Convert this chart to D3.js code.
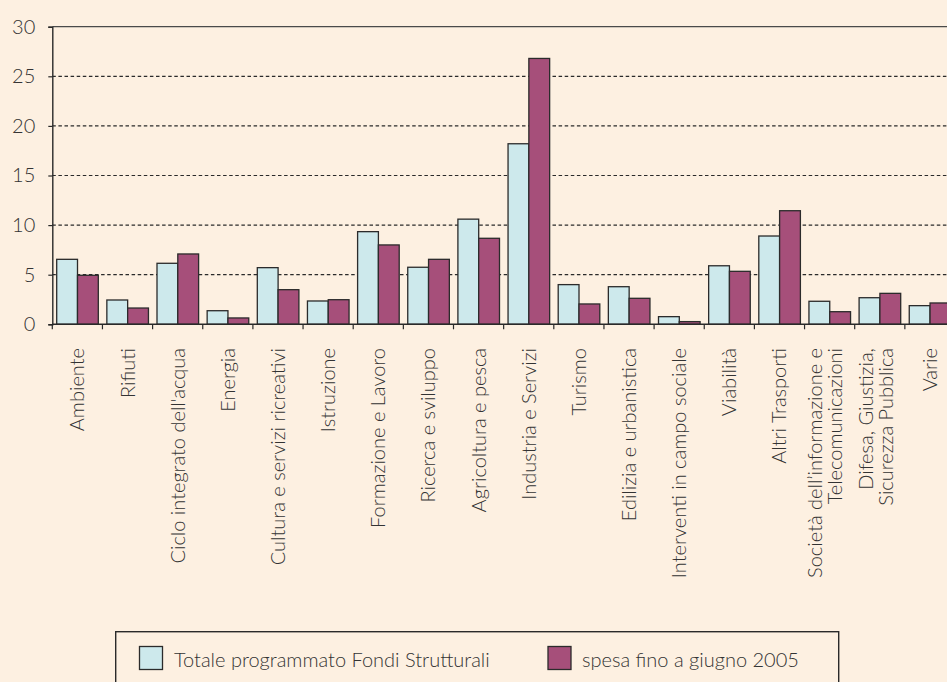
<!DOCTYPE html>
<html>
<head>
<meta charset="utf-8">
<script src="https://cdn.jsdelivr.net/npm/d3@7"></script>
<style>
  html, body { margin: 0; padding: 0; background: #FDF0E1; }
  svg { display: block; }
  text { font-family: "Lato", "Open Sans", sans-serif; font-weight: 300; fill: #333; }
</style>
</head>
<body>
<svg id="chart" width="947" height="682"></svg>
<script>
const categories = [
  ["Ambiente"],
  ["Rifiuti"],
  ["Ciclo integrato dell'acqua"],
  ["Energia"],
  ["Cultura e servizi ricreativi"],
  ["Istruzione"],
  ["Formazione e Lavoro"],
  ["Ricerca e sviluppo"],
  ["Agricoltura e pesca"],
  ["Industria e Servizi"],
  ["Turismo"],
  ["Edilizia e urbanistica"],
  ["Interventi in campo sociale"],
  ["Viabilità"],
  ["Altri Trasporti"],
  ["Società dell’informazione e", "Telecomunicazioni"],
  ["Difesa, Giustizia,", "Sicurezza Pubblica"],
  ["Varie"]
];
const seriesNames = ["Totale programmato Fondi Strutturali", "spesa fino a giugno 2005"];
const totaleProgrammato = [6.55, 2.45, 6.15, 1.37, 5.71, 2.35, 9.34, 5.75, 10.6, 18.2, 4.0, 3.79, 0.77, 5.9, 8.9, 2.32, 2.68, 1.88];
const spesaGiugno2005  = [4.94, 1.64, 7.09, 0.64, 3.49, 2.48, 8.0, 6.55, 8.67, 26.8, 2.05, 2.62, 0.27, 5.34, 11.45, 1.27, 3.12, 2.15];
const yTicks = [0, 5, 10, 15, 20, 25, 30];

const colors = ["#CDE9EC", "#A64F7A"];
const svg = d3.select("#chart");

const x0 = 52.3, yBase = 324.3, yTop = 26.7;
const x = d3.scaleBand().domain(d3.range(categories.length)).range([x0, x0 + 50.15 * categories.length]).padding(0);
const xSub = d3.scaleBand().domain([0, 1]).range([4.4, 46]).padding(0);
const y = d3.scaleLinear().domain([0, 30]).range([yBase, yTop]);

// gridlines
svg.append("g").selectAll("line").data(yTicks.filter(t => t > 0)).join("line")
  .attr("x1", x0).attr("x2", 947)
  .attr("y1", d => y(d)).attr("y2", d => y(d))
  .attr("stroke", d => d === 30 ? "#4a4a4a" : "#2a2a2a")
  .attr("stroke-width", d => d === 30 ? 1.3 : 1.2)
  .attr("stroke-dasharray", d => d === 30 ? null : "3.5,2.6");

// y axis
const yAxis = d3.axisLeft(y).tickValues(yTicks).tickSize(4).tickPadding(13).tickFormat(d3.format("d"));
const gy = svg.append("g").attr("transform", `translate(${x0},0)`).call(yAxis);
gy.select(".domain").attr("stroke", "#2a2a2a").attr("stroke-width", 1.4);
gy.selectAll(".tick line").attr("stroke", "#2a2a2a").attr("stroke-width", 1.2);
gy.selectAll(".tick text").style("font-size", "20px").attr("fill", "#333").attr("font-family", null);

// bars
const data = categories.map((c, i) => ({i, vals: [totaleProgrammato[i], spesaGiugno2005[i]]}));
const groups = svg.append("g").selectAll("g").data(data).join("g")
  .attr("transform", d => `translate(${x(d.i)},0)`);
groups.selectAll("rect").data(d => d.vals.map((v, k) => ({v, k}))).join("rect")
  .attr("x", d => xSub(d.k))
  .attr("width", xSub.bandwidth())
  .attr("y", d => y(d.v))
  .attr("height", d => yBase - y(d.v))
  .attr("fill", d => colors[d.k])
  .attr("stroke", "#2b2b2b")
  .attr("stroke-width", 1.3);

// x axis
const gx = svg.append("g").attr("transform", `translate(0,${yBase})`);
gx.append("line").attr("x1", x0).attr("x2", 947).attr("y1", 0).attr("y2", 0)
  .attr("stroke", "#2a2a2a").attr("stroke-width", 1.4);
gx.selectAll("line.tk").data(d3.range(categories.length + 1)).join("line").attr("class", "tk")
  .attr("x1", d => x0 + d * x.step()).attr("x2", d => x0 + d * x.step())
  .attr("y1", 0).attr("y2", 5).attr("stroke", "#2a2a2a").attr("stroke-width", 1.2);

// x labels
const labels = svg.append("g").selectAll("text").data(categories).join("text")
  .attr("transform", (d, i) => `translate(${x(i) + x.bandwidth() / 2},348) rotate(-90)`)
  .attr("text-anchor", "end")
  .style("font-size", "20px");
labels.each(function(d) {
  const t = d3.select(this);
  if (d.length === 1) {
    t.append("tspan").attr("x", 0).attr("dy", "0.35em").text(d[0]);
  } else {
    t.append("tspan").attr("x", 0).attr("dy", "-0.36em").text(d[0]);
    t.append("tspan").attr("x", 0).attr("dy", "20px").text(d[1]);
  }
});

// legend
const lg = svg.append("g");
lg.append("rect").attr("x", 115.7).attr("y", 631.7).attr("width", 723).attr("height", 80)
  .attr("fill", "none").attr("stroke", "#2a2a2a").attr("stroke-width", 1.4);
const legendItems = [{name: seriesNames[0], sx: 139.5, tx: 174}, {name: seriesNames[1], sx: 548, tx: 582}];
legendItems.forEach((it, k) => {
  lg.append("rect").attr("x", it.sx).attr("y", 646.5).attr("width", 23).attr("height", 23)
    .attr("fill", colors[k]).attr("stroke", "#2b2b2b").attr("stroke-width", 1.3);
  lg.append("text").attr("x", it.tx).attr("y", 666.5).style("font-size", "20px").text(it.name);
});
</script>
</body>
</html>
